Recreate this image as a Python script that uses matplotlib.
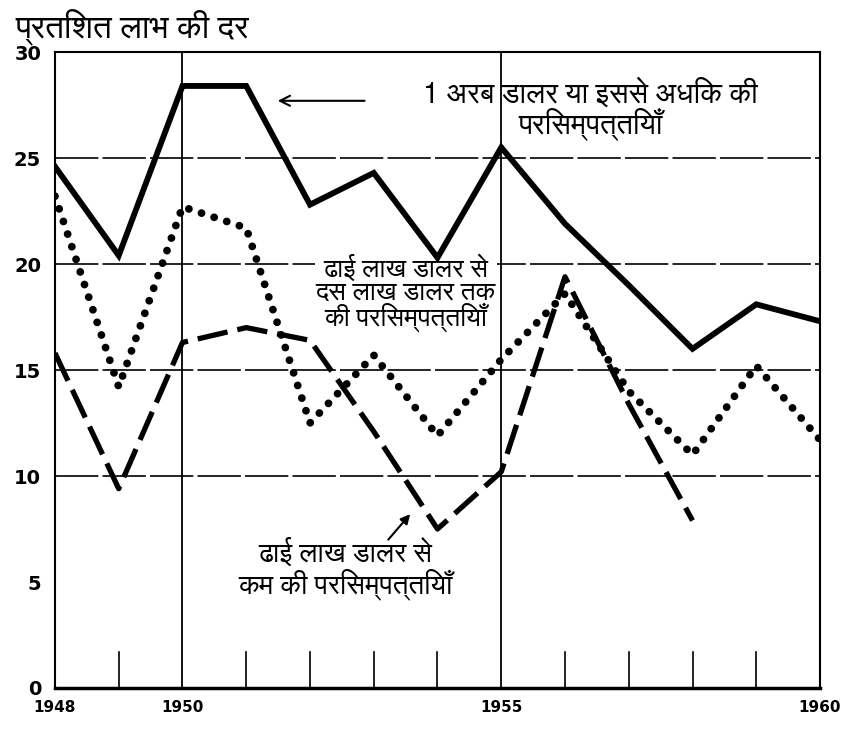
import matplotlib
matplotlib.use("Agg")
import matplotlib.pyplot as plt
from matplotlib import font_manager
from matplotlib.ft2font import FT2Font

# pick an installed font that has Devanagari glyphs (upright file only)
deva_fonts = []
for f in font_manager.fontManager.ttflist:
    try:
        if f.style == "normal" and 0x0915 in FT2Font(f.fname).get_charmap():
            deva_fonts.append(f.name)
    except Exception:
        pass
deva_font = None
for name in ["FreeSans", "Amiko", "Akshar", "FreeSerif"]:
    if name in deva_fonts:
        deva_font = name
        break
if deva_font is None and deva_fonts:
    deva_font = deva_fonts[0]
families = [deva_font, "DejaVu Sans"] if deva_font else ["DejaVu Sans"]

#Data
years = [1948, 1949, 1950, 1951, 1952, 1953, 1954, 1955, 1956, 1957, 1958, 1959, 1960]
big_assets = [24.6, 20.4, 28.4, 28.4, 22.8, 24.3, 20.3, 25.5, 21.9, 19.0, 16.0, 18.1, 17.3]
mid_assets = [23.2, 14.2, 22.7, 21.7, 12.5, 15.7, 11.9, 15.5, 18.6, 14.0, 11.0, 15.2, 11.7]
small_years = years[:11]
small_assets = [15.8, 9.4, 16.3, 17.0, 16.4, 12.1, 7.5, 10.2, 19.4, 13.4, 7.9]

ytick_vals = [0, 5, 10, 15, 20, 25, 30]
xtick_vals = [1948, 1950, 1955, 1960]
grid_vals = [10, 15, 20, 25]

title = "प्रतिशत लाभ की दर"
label_big = "1 अरब डालर या इससे अधिक की\nपरिसम्पत्तियाँ"
label_mid = "ढाई लाख डालर से\nदस लाख डालर तक\nकी परिसम्पत्तियाँ"
label_small = "ढाई लाख डालर से\nकम की परिसम्पत्तियाँ"

fig = plt.figure(figsize=(8.51, 7.33), dpi=100)
ax = fig.add_axes([0.0646, 0.0614, 0.899, 0.8676])

ax.set_xlim(1948, 1960)
ax.set_ylim(0, 30)

#Grid and year markers
for g in grid_vals:
    ax.plot([1948, 1960], [g, g], color="black", lw=1.2, dashes=(26, 2.5), zorder=1)
for yr in [1950, 1955]:
    ax.axvline(yr, color="black", lw=1.3, zorder=1)
for yr in years:
    if yr not in (1948, 1950, 1955, 1960):
        ax.plot([yr, yr], [0, 1.7], color="black", lw=1.2, zorder=1)

#Series
ax.plot(years, big_assets, color="black", lw=4.2, solid_joinstyle="miter", zorder=3)
ax.plot(years, mid_assets, color="black", lw=5.6, linestyle=(0, (0.01, 1.7)),
        dash_capstyle="round", zorder=3)
ax.plot(small_years, small_assets, color="black", lw=3.8, linestyle=(0, (5.8, 1.9)), zorder=3)

#Labels
ax.text(1956.4, 27.3, label_big, ha="center", va="center", fontsize=21,
        family=families, linespacing=0.95, zorder=4)
ax.annotate("", xy=(1951.45, 27.7), xytext=(1952.9, 27.7),
            arrowprops=dict(arrowstyle="->", lw=1.5, color="black", mutation_scale=18))
ax.text(1953.5, 18.6, label_mid, ha="center", va="center", fontsize=19,
        family=families, linespacing=0.85, zorder=2,
        bbox=dict(facecolor="white", edgecolor="none", pad=0.5))
ax.text(1952.55, 5.6, label_small, ha="center", va="center", fontsize=20,
        family=families, linespacing=1.0, zorder=4)
ax.annotate("", xy=(1953.6, 8.3), xytext=(1953.2, 6.9),
            arrowprops=dict(arrowstyle="-|>", lw=1.5, color="black", mutation_scale=14))

fig.text(0.018, 0.964, title, ha="left", va="center", fontsize=24, family=families)

#Axes styling
ax.set_yticks(ytick_vals)
ax.set_yticklabels([str(v) for v in ytick_vals], fontsize=14, fontweight="bold")
ax.set_xticks(xtick_vals)
ax.set_xticklabels([str(v) for v in xtick_vals], fontsize=11, fontweight="bold")
ax.tick_params(axis="both", length=0)
ax.tick_params(axis="y", pad=10)
ax.tick_params(axis="x", pad=9)
for side in ["left", "right", "top"]:
    ax.spines[side].set_linewidth(1.5)
ax.spines["bottom"].set_linewidth(2.5)

plt.savefig("out.png", dpi=100)
